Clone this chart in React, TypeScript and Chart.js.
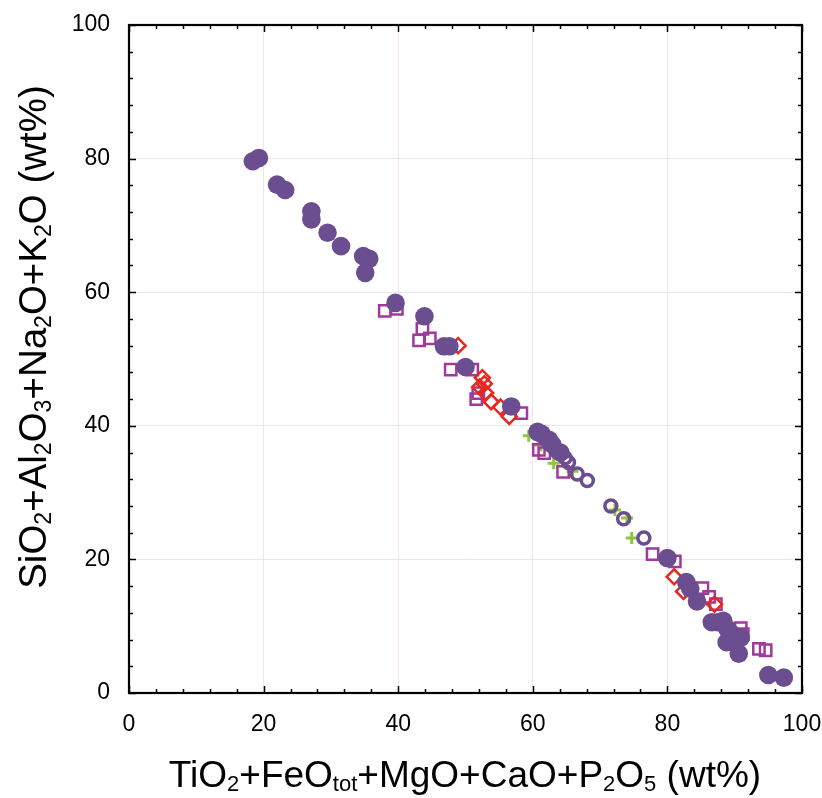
import React, { useEffect, useRef } from 'react';
import { Chart, registerables } from 'chart.js';

Chart.register(...registerables);

// ---- data ----
const solidCircleX = [18.4, 19.3, 22.0, 23.2, 27.1, 27.1, 29.5, 31.5, 34.8, 35.7, 35.1, 39.6, 43.9, 46.8, 47.6, 50.0, 56.8, 60.7, 61.3, 62.4, 62.9, 64.1, 80.0, 82.8, 83.4, 84.4, 86.6, 87.5, 88.3, 88.9, 89.5, 88.8, 90.2, 90.9, 90.6, 95.0, 97.3];
const solidCircleY = [79.6, 80.1, 76.1, 75.3, 72.1, 70.9, 68.9, 66.9, 65.4, 65.0, 62.9, 58.4, 56.4, 51.9, 51.9, 48.8, 42.9, 39.1, 38.8, 37.9, 37.2, 36.0, 20.2, 16.6, 15.6, 13.7, 10.6, 10.6, 10.8, 9.6, 8.9, 7.6, 8.0, 8.3, 5.9, 2.7, 2.3];

const openCircleX = [63.6, 64.8, 65.3, 66.6, 68.1, 71.6, 73.5, 76.5];
const openCircleY = [36.1, 35.2, 34.5, 32.8, 31.8, 28.0, 26.1, 23.2];

const squareX = [38.0, 39.8, 43.6, 43.1, 44.7, 47.8, 51.0, 51.6, 51.9, 58.3, 60.9, 61.7, 64.5, 77.8, 81.1, 85.2, 86.2, 87.2, 90.9, 91.2, 93.6, 94.6];
const squareY = [57.2, 57.5, 54.5, 52.8, 53.1, 48.4, 48.4, 44.0, 44.9, 41.9, 36.4, 35.9, 33.1, 20.8, 19.7, 15.7, 14.4, 13.3, 9.7, 8.8, 6.6, 6.4];

const diamondX = [48.9, 52.5, 52.8, 52.1, 53.0, 53.8, 55.2, 56.5, 81.0, 82.4, 87.0];
const diamondY = [52.0, 47.2, 46.3, 45.8, 44.9, 43.6, 42.8, 41.4, 17.4, 15.2, 13.3];

const crossX = [59.4, 61.2, 63.1, 65.9, 72.2, 74.0, 74.7];
const crossY = [38.5, 37.1, 34.4, 33.2, 27.4, 26.2, 23.2];

const axisTicks = [0, 20, 40, 60, 80, 100];

// axis titles as [text, isSubscript]
const xTitleParts: [string, boolean][] = [
  ['TiO', false], ['2', true], ['+FeO', false], ['tot', true], ['+MgO+CaO+P', false], ['2', true], ['O', false], ['5', true], [' (wt%)', false],
];
const yTitleParts: [string, boolean][] = [
  ['SiO', false], ['2', true], ['+Al', false], ['2', true], ['O', false], ['3', true], ['+Na', false], ['2', true], ['O+K', false], ['2', true], ['O (wt%)', false],
];

const FONT = '"Liberation Sans", Arial, sans-serif';

const toPoints = (xs: number[], ys: number[]) => xs.map((x, i) => ({ x, y: ys[i] }));

function drawRich(ctx: CanvasRenderingContext2D, parts: [string, boolean][], size: number) {
  const sub = Math.round(size * 0.6);
  let total = 0;
  const widths: number[] = [];
  for (const [t, s] of parts) {
    ctx.font = `${s ? sub : size}px ${FONT}`;
    const w = ctx.measureText(t).width;
    widths.push(w);
    total += w;
  }
  let x = -total / 2;
  parts.forEach(([t, s], i) => {
    ctx.font = `${s ? sub : size}px ${FONT}`;
    ctx.fillText(t, x, s ? size * 0.12 : 0);
    x += widths[i];
  });
}

const framePlugin = {
  id: 'frameTicks',
  afterDatasetsDraw(chart: any) {
    const { ctx, chartArea } = chart;
    const { left, right, top, bottom } = chartArea;
    const xs = chart.scales.x;
    const ys = chart.scales.y;
    ctx.save();
    ctx.strokeStyle = '#000';
    ctx.lineWidth = 1.5;
    ctx.beginPath();
    for (let v = 0; v <= 100; v += 4) {
      const len = v % 20 === 0 ? 7 : 4;
      const px = Math.round(xs.getPixelForValue(v)) + 0.5;
      ctx.moveTo(px, bottom);
      ctx.lineTo(px, bottom - len);
      ctx.moveTo(px, top);
      ctx.lineTo(px, top + len);
      const py = Math.round(ys.getPixelForValue(v)) + 0.5;
      ctx.moveTo(left, py);
      ctx.lineTo(left + len, py);
      ctx.moveTo(right, py);
      ctx.lineTo(right - len, py);
    }
    ctx.stroke();
    ctx.lineWidth = 2.2;
    ctx.strokeRect(left, top, right - left, bottom - top);
    ctx.restore();
  },
  afterDraw(chart: any) {
    const { ctx } = chart;
    ctx.save();
    ctx.fillStyle = '#000';
    ctx.textBaseline = 'alphabetic';
    ctx.textAlign = 'left';
    ctx.save();
    ctx.translate(465, 787);
    drawRich(ctx, xTitleParts, 37);
    ctx.restore();
    ctx.save();
    ctx.translate(46, 337);
    ctx.rotate(-Math.PI / 2);
    drawRich(ctx, yTitleParts, 38.5);
    ctx.restore();
    ctx.restore();
  },
};

export default function App() {
  const ref = useRef<HTMLCanvasElement | null>(null);

  useEffect(() => {
    if (!ref.current) return;
    const purple = '#6b4e8f';
    const chart = new Chart(ref.current, {
      type: 'scatter',
      data: {
        datasets: [
          {
            label: 'open circles',
            data: toPoints(openCircleX, openCircleY),
            pointStyle: 'circle',
            pointRadius: 6,
            borderColor: purple,
            backgroundColor: 'rgba(255,255,255,0)',
            borderWidth: 3.5,
            order: 0,
          },
          {
            label: 'filled circles',
            data: toPoints(solidCircleX, solidCircleY),
            pointStyle: 'circle',
            pointRadius: 9.3,
            borderColor: purple,
            backgroundColor: purple,
            borderWidth: 0,
            order: 1,
          },
          {
            label: 'diamonds',
            data: toPoints(diamondX, diamondY),
            pointStyle: 'rectRot',
            pointRadius: 7.5,
            borderColor: '#e8281f',
            backgroundColor: 'rgba(255,255,255,0)',
            borderWidth: 2.5,
            order: 2,
          },
          {
            label: 'squares',
            data: toPoints(squareX, squareY),
            pointStyle: 'rect',
            pointRadius: 8,
            borderColor: '#a1399b',
            backgroundColor: 'rgba(255,255,255,0)',
            borderWidth: 2.5,
            order: 3,
          },
          {
            label: 'crosses',
            data: toPoints(crossX, crossY),
            pointStyle: 'cross',
            pointRadius: 6,
            borderColor: '#8dc63f',
            backgroundColor: '#8dc63f',
            borderWidth: 3,
            order: 4,
          },
        ],
      },
      options: {
        animation: false,
        responsive: false,
        events: [],
        layout: { padding: { top: 25, right: 20, left: 0, bottom: 0 } },
        plugins: {
          legend: { display: false },
          tooltip: { enabled: false },
          title: { display: false },
        },
        scales: {
          x: {
            type: 'linear',
            min: 0,
            max: 100,
            afterBuildTicks: (s: any) => { s.ticks = axisTicks.map((v) => ({ value: v })); },
            afterFit: (s: any) => { s.height = 105; s.paddingLeft = 0; s.paddingRight = 0; },
            ticks: { color: '#000', font: { family: FONT, size: 23 }, padding: 18, maxRotation: 0 },
            grid: { color: '#efe4e9', lineWidth: 1, drawTicks: false },
            border: { display: false },
          },
          y: {
            type: 'linear',
            min: 0,
            max: 100,
            afterBuildTicks: (s: any) => { s.ticks = axisTicks.map((v) => ({ value: v })); },
            afterFit: (s: any) => { s.width = 129; s.paddingTop = 0; s.paddingBottom = 0; },
            ticks: { color: '#000', font: { family: FONT, size: 23 }, padding: 19 },
            grid: { color: '#efe4e9', lineWidth: 1, drawTicks: false },
            border: { display: false },
          },
        },
      },
      plugins: [framePlugin],
    } as any);
    return () => chart.destroy();
  }, []);

  return (
    <div style={{ position: 'fixed', left: 0, top: 0, width: 822, height: 798, background: '#fff' }}>
      <canvas ref={ref} width={822} height={798} style={{ display: 'block' }} />
    </div>
  );
}
